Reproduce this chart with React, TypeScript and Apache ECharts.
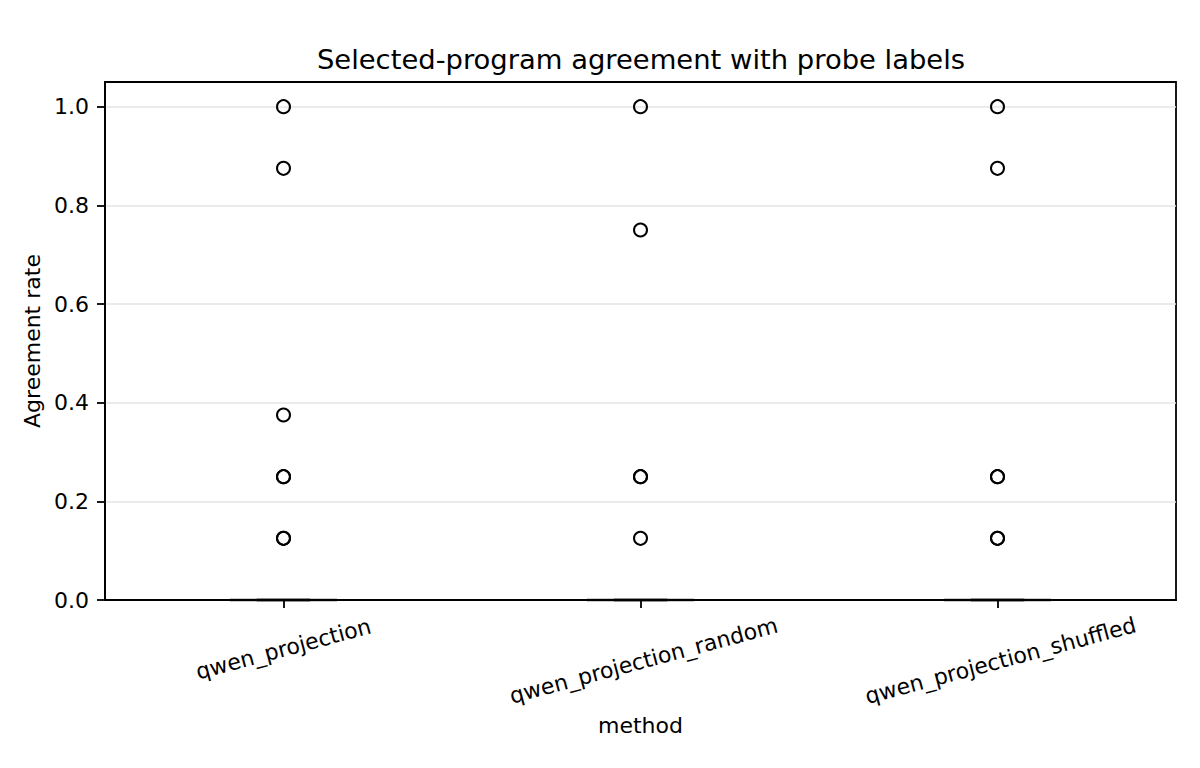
import React, { useEffect, useRef } from "react";
import * as echarts from "echarts";

const methods = ["qwen_projection", "qwen_projection_random", "qwen_projection_shuffled"];
const outliersProjection = [1.0, 0.875, 0.375, 0.25, 0.25, 0.125, 0.125];
const outliersRandom = [1.0, 0.75, 0.25, 0.25, 0.125];
const outliersShuffled = [1.0, 0.875, 0.25, 0.25, 0.125, 0.125];
const medians = [0, 0, 0];
const yTicks = [0, 0.2, 0.4, 0.6, 0.8, 1.0];

const FONT = "DejaVu Sans";

export default function App() {
  const ref = useRef<HTMLDivElement>(null);

  useEffect(() => {
    if (!ref.current) return;
    const chart = echarts.init(ref.current, undefined, { renderer: "svg" });

    const outlierGroups = [outliersProjection, outliersRandom, outliersShuffled];
    const scatterData: number[][] = [];
    outlierGroups.forEach((vals, i) => vals.forEach((v) => scatterData.push([i, v])));

    // longer rotated labels hang lower (matplotlib anchors the top of the rotated box)
    const dropLine = [false, true, true];

    const option: any = {
      animation: false,
      backgroundColor: "#ffffff",
      textStyle: { fontFamily: FONT },
      title: {
        text: "Selected-program agreement with probe labels",
        left: 636,
        textAlign: "center",
        top: 41,
        textStyle: { fontFamily: FONT, fontSize: 27.4, fontWeight: "normal", color: "#000" },
      },
      grid: {
        left: 105,
        right: 24,
        top: 82,
        bottom: 168,
        show: true,
        borderColor: "#000",
        borderWidth: 1.8,
        backgroundColor: "transparent",
        z: 4,
      },
      xAxis: {
        type: "category",
        z: 5,
        data: methods.map((m) => ({
          value: m,
          textStyle: {
            align: "center",
            verticalAlign: "middle",
            lineHeight: 24,
            fontFamily: FONT,
            fontSize: 22,
            color: "#000",
          },
        })),
        boundaryGap: true,
        name: "method",
        nameLocation: "middle",
        nameGap: 106,
        nameTextStyle: { fontFamily: FONT, fontSize: 22, color: "#000" },
        axisLine: { show: true, lineStyle: { color: "#000", width: 1.8 } },
        axisTick: { show: true, alignWithLabel: true, length: 8, lineStyle: { color: "#000", width: 1.8 } },
        axisLabel: {
          rotate: 15,
          align: "center",
          verticalAlign: "middle",
          margin: 49,
          interval: 0,
          fontFamily: FONT,
          fontSize: 22,
          color: "#000",
          formatter: (value: string, index: number) => (dropLine[index] ? "\n" + value : value),
        },
        splitLine: { show: false },
      },
      yAxis: {
        type: "value",
        z: 5,
        min: 0,
        max: 1.05,
        interval: 0.2,
        name: "Agreement rate",
        nameLocation: "middle",
        nameGap: 60,
        nameTextStyle: { fontFamily: FONT, fontSize: 22, color: "#000" },
        axisLine: { show: true, lineStyle: { color: "#000", width: 1.8 } },
        axisTick: { show: true, length: 8, customValues: yTicks, lineStyle: { color: "#000", width: 1.8 } },
        axisLabel: {
          customValues: yTicks,
          margin: 16,
          fontFamily: FONT,
          fontSize: 22,
          color: "#000",
          formatter: (v: number) => v.toFixed(1),
        },
        splitLine: { show: true, lineStyle: { color: "#e5e5e5", width: 1.5 } },
      },
      series: [
        {
          type: "custom",
          z: 1,
          data: medians.map((m, i) => [i, m]),
          renderItem: (params: any, api: any) => {
            const c = api.coord([api.value(0), api.value(1)]);
            const band = api.size([1, 0])[0];
            const half = band * 0.15;
            const capHalf = band * 0.075;
            return {
              type: "group",
              children: [
                {
                  type: "line",
                  shape: { x1: c[0] - half, y1: c[1], x2: c[0] + half, y2: c[1] },
                  style: { stroke: "#bdbdbd", lineWidth: 3.5 },
                },
                {
                  type: "line",
                  shape: { x1: c[0] - capHalf, y1: c[1], x2: c[0] + capHalf, y2: c[1] },
                  style: { stroke: "#7a7a7a", lineWidth: 3.5 },
                },
              ],
            };
          },
        },
        {
          type: "scatter",
          z: 6,
          data: scatterData,
          symbol: "circle",
          symbolSize: 13,
          itemStyle: { color: "rgba(255,255,255,0)", borderColor: "#000", borderWidth: 2, opacity: 1 },
        },
      ],
    };

    chart.setOption(option);
    return () => chart.dispose();
  }, []);

  return (
    <div
      ref={ref}
      style={{ position: "fixed", left: 0, top: 0, width: 1200, height: 768, background: "#fff" }}
    />
  );
}
